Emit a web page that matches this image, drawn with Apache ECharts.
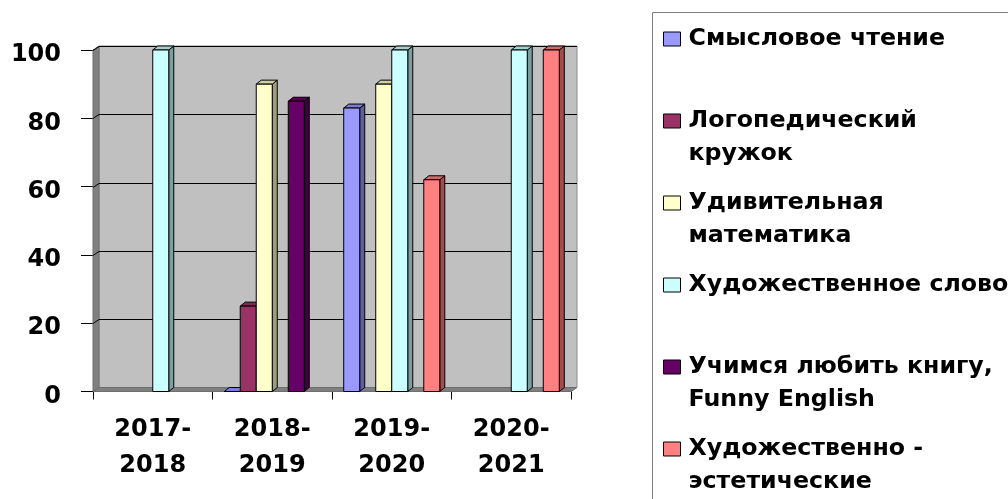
<!DOCTYPE html>
<html>
<head>
<meta charset="utf-8">
<script src="https://cdn.jsdelivr.net/npm/echarts@6/dist/echarts.min.js"></script>
<style>
  html, body { margin: 0; padding: 0; background: #fff; }
  #chart { width: 1008px; height: 499px; }
</style>
</head>
<body>
<div id="chart"></div>
<script>
// data
const categories = ['2017-2018', '2018-2019', '2019-2020', '2020-2021']
const seriesNames = [
  'Смысловое чтение',
  'Логопедический кружок',
  'Удивительная математика',
  'Художественное слово',
  'Учимся любить книгу, Funny English',
  'Художественно - эстетические'
]
// how each legend label wraps (blank first line keeps the icon on line one)
const legendLabels = [
  ' \nСмысловое чтение\n ',
  ' \nЛогопедический\nкружок',
  ' \nУдивительная\nматематика',
  ' \nХудожественное слово\n ',
  ' \nУчимся любить книгу,\nFunny English',
  ' \nХудожественно -\nэстетические'
]
const smyslovoe = [null, 0, 83, null]
const logoped = [null, 25, null, null]
const matematika = [null, 90, 90, null]
const slovo = [100, null, 100, 100]
const knigu = [null, 85, null, null]
const estetika = [null, null, 62, 100]
const seriesValues = [smyslovoe, logoped, matematika, slovo, knigu, estetika]
const colors = ['#9999FF', '#993366', '#FFFFCC', '#CCFFFF', '#660066', '#FF8080']

const FONT = 'DejaVu Sans'
const DX = 5 // bar depth
const DY = -4
const WDX = 6 // wall depth
const WDY = -4
const BAR_RATIO = 0.134

function shade (hex, k) {
  const n = parseInt(hex.slice(1), 16)
  const r = Math.round(((n >> 16) & 255) * k)
  const g = Math.round(((n >> 8) & 255) * k)
  const b = Math.round((n & 255) * k)
  return 'rgb(' + r + ',' + g + ',' + b + ')'
}

function renderWall (params, api) {
  const cs = params.coordSys
  const l = cs.x
  const r = cs.x + cs.width
  const t = cs.y
  const b = cs.y + cs.height
  const children = [
    { type: 'rect', shape: { x: l + WDX, y: t + WDY, width: cs.width, height: cs.height }, style: { fill: '#C0C0C0', stroke: '#8C8C8C', lineWidth: 1 } },
    { type: 'polygon', shape: { points: [[l, t], [l + WDX, t + WDY], [l + WDX, b + WDY], [l, b]] }, style: { fill: '#808080', stroke: '#6E6E6E', lineWidth: 1 } },
    { type: 'polygon', shape: { points: [[l, b], [l + WDX, b + WDY], [r + WDX, b + WDY], [r, b]] }, style: { fill: '#808080', stroke: '#6E6E6E', lineWidth: 1 } }
  ]
  for (let v = 20; v <= 100; v += 20) {
    const y = Math.round(api.coord([0, v])[1]) + 0.5
    children.push({
      type: 'polyline',
      shape: { points: [[l, y], [l + WDX, y + WDY], [r + WDX, y + WDY]] },
      style: { stroke: '#000', lineWidth: 1, fill: null }
    })
  }
  return { type: 'group', children: children }
}

function makeBarRender (slot, color) {
  const sideColor = shade(color, 0.62)
  const topColor = shade(color, 0.82)
  return function (params, api) {
    const base = api.coord([api.value(0), 0])
    const top = api.coord([api.value(0), api.value(1)])
    const w = api.size([1, 0])[0] * BAR_RATIO
    const x0 = base[0] + (slot - 3) * w
    const x1 = x0 + w
    const yt = top[1]
    const yb = base[1]
    const st = { stroke: '#000', lineWidth: 1 }
    return {
      type: 'group',
      children: [
        { type: 'polygon', shape: { points: [[x1, yt], [x1 + DX, yt + DY], [x1 + DX, yb + DY], [x1, yb]] }, style: Object.assign({ fill: sideColor }, st) },
        { type: 'polygon', shape: { points: [[x0, yt], [x0 + DX, yt + DY], [x1 + DX, yt + DY], [x1, yt]] }, style: Object.assign({ fill: topColor }, st) },
        { type: 'rect', shape: { x: x0, y: yt, width: w, height: yb - yt }, style: Object.assign({ fill: color }, st) }
      ]
    }
  }
}

const series = [{
  name: 'wall',
  type: 'custom',
  silent: true,
  renderItem: renderWall,
  data: [[0, 0]],
  z: 1
}]
seriesValues.forEach(function (vals, i) {
  const data = []
  vals.forEach(function (v, c) {
    if (v !== null) data.push([c, v])
  })
  series.push({
    name: seriesNames[i],
    type: 'custom',
    renderItem: makeBarRender(i, colors[i]),
    itemStyle: { color: colors[i] },
    encode: { x: 0, y: 1 },
    data: data,
    z: 2
  })
})

const chart = echarts.init(document.getElementById('chart'))
chart.setOption({
  animation: false,
  grid: { left: 93, right: 437, top: 50, bottom: 107.5 },
  graphic: [{
    type: 'rect',
    shape: { x: 652.5, y: 12.5, width: 420, height: 600 },
    style: { fill: '#fff', stroke: '#7F7F7F', lineWidth: 1 },
    z: -1
  }],
  legend: {
    data: seriesNames,
    orient: 'vertical',
    left: 663,
    top: -10.5,
    padding: 0,
    itemGap: -17,
    itemWidth: 17,
    itemHeight: 14,
    icon: 'rect',
    selectedMode: false,
    itemStyle: { borderColor: '#000', borderWidth: 1 },
    formatter: function (name) {
      return legendLabels[seriesNames.indexOf(name)]
    },
    textStyle: {
      fontFamily: FONT,
      fontWeight: 'bold',
      fontSize: 23.7,
      lineHeight: 33,
      color: '#000',
      padding: [0, 0, 0, 3]
    }
  },
  xAxis: {
    type: 'category',
    data: categories,
    axisLine: { lineStyle: { color: '#000', width: 1 } },
    axisTick: { show: true, interval: 0, length: 8, lineStyle: { color: '#000' } },
    axisLabel: {
      interval: 0,
      margin: 20,
      fontFamily: FONT,
      fontWeight: 'bold',
      fontSize: 24,
      lineHeight: 36,
      color: '#000',
      formatter: function (v) { return v.replace('-', '-\n') }
    },
    splitLine: { show: false }
  },
  yAxis: {
    type: 'value',
    min: 0,
    max: 100,
    interval: 20,
    axisLine: { show: true, lineStyle: { color: '#000', width: 1 } },
    axisTick: { show: true, length: 12, lineStyle: { color: '#000' } },
    axisLabel: {
      margin: 32,
      color: '#000',
      formatter: function (v) { return '{v|' + v + '}' },
      rich: {
        v: {
          fontFamily: FONT,
          fontWeight: 'bold',
          fontSize: 24,
          color: '#000',
          padding: [10, 0, 0, 0]
        }
      }
    },
    splitLine: { show: false }
  },
  series: series
})
</script>
</body>
</html>
